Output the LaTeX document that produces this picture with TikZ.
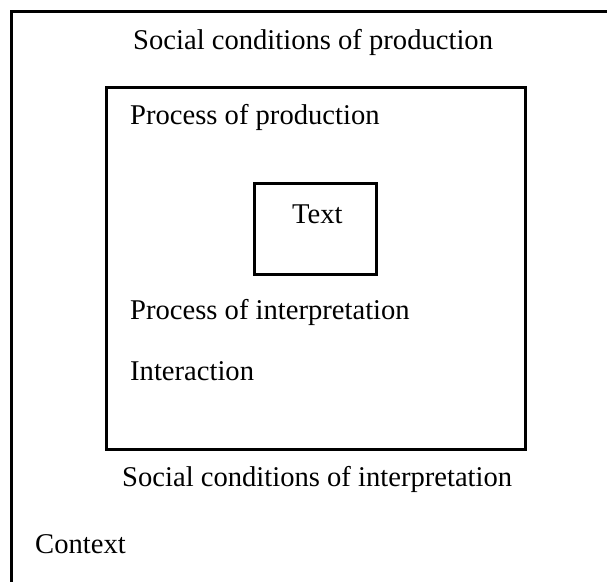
\documentclass[tikz,border=0pt]{standalone}
\usepackage{fontspec}
\setmainfont{Liberation Serif}
\begin{document}
\begin{tikzpicture}[x=1pt,y=-1pt,
  frame/.style={draw=black,line width=2.6pt,inner sep=0pt,outer sep=0pt,anchor=north west},
  lbl/.style={inner sep=0pt,anchor=base west,font=\fontsize{28.6}{34}\selectfont}]
\useasboundingbox (0,0) rectangle (607,581);
\clip (0,0) rectangle (607,581);
\fill[white] (0,0) rectangle (607,581);
% outer context box (extends beyond the right and bottom edges)
\node[frame,minimum width=640pt,minimum height=620pt] (context) at (11.5,11.5) {};
% middle box
\node[frame,minimum width=419pt,minimum height=362pt] (process) at (106.5,87.5) {};
% text box
\node[frame,line width=3pt,minimum width=122pt,minimum height=91pt] (textbox) at (254.5,183.5) {};
% labels
\node[lbl] (socprod) at (133,49) {Social conditions of production};
\node[lbl] (procprod) at (130,124) {Process of production};
\node[lbl] (text) at (292,223) {Text};
\node[lbl] (procint) at (130,319) {Process of interpretation};
\node[lbl] (interaction) at (130,380) {Interaction};
\node[lbl] (socint) at (122,486) {Social conditions of interpretation};
\node[lbl] (ctx) at (35,553) {Context};
\end{tikzpicture}
\end{document}
